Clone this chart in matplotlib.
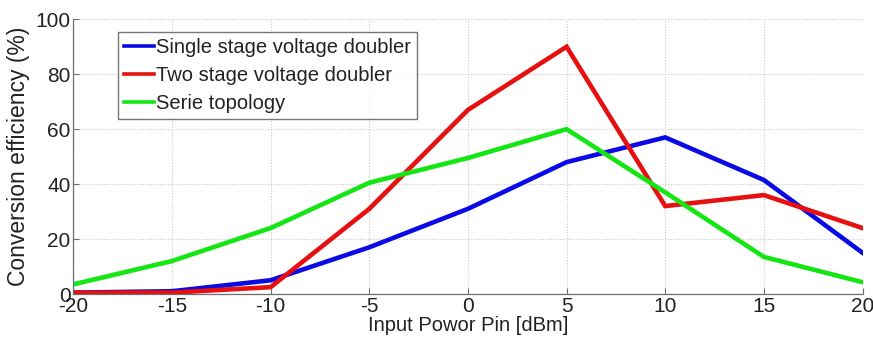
import matplotlib

matplotlib.use("Agg")
import matplotlib.pyplot as plt

# input power sweep (dBm) and measured conversion efficiency (%)
pin_dbm = [-20, -15, -10, -5, 0, 5, 10, 15, 20]
single_stage = [0.5, 1, 5, 17, 31, 48, 57, 41.5, 15]
two_stage = [0.5, 0.5, 2.5, 31, 67, 90, 32, 36, 24]
serie = [3.5, 12, 24, 40.5, 49.5, 60, 37, 13.5, 4.3]

labels = ["Single stage voltage doubler", "Two stage voltage doubler", "Serie topology"]
colors = ["#0a0ae6", "#e61010", "#14e614"]

plt.rcParams["font.family"] = ["Liberation Sans", "DejaVu Sans"]
plt.rcParams["axes.unicode_minus"] = False

fig = plt.figure(figsize=(8.73, 3.5), dpi=100)
ax = fig.add_axes([0.084, 0.16, 0.904, 0.785])

for series, label, color in zip([single_stage, two_stage, serie], labels, colors):
    ax.plot(pin_dbm, series, color=color, lw=3.3, label=label, solid_joinstyle="miter")

ax.set_xlim(-20, 20)
ax.set_ylim(0, 100)
ax.set_xticks(pin_dbm)
ax.set_yticks([0, 20, 40, 60, 80, 100])
ax.grid(True, color="#c8c8c8", linestyle=(0, (1, 1.5)), lw=0.8)
ax.set_axisbelow(True)

for side in ("top", "right"):
    ax.spines[side].set_visible(False)
for side in ("left", "bottom"):
    ax.spines[side].set_color("#6e6e6e")
    ax.spines[side].set_linewidth(0.9)

ax.tick_params(direction="in", length=4, color="#6e6e6e", labelsize=15,
               labelcolor="#222222", pad=2)
ax.set_xlabel("Input Powor Pin [dBm]", fontsize=14.5, color="#222222", labelpad=0)
ax.set_ylabel("Conversion efficiency (%)", fontsize=16.5, color="#222222", labelpad=4)

leg = ax.legend(loc="upper left", bbox_to_anchor=(0.056, 0.955), fontsize=14.5,
                frameon=True, fancybox=False, handlelength=1.5, handletextpad=0.1,
                borderpad=0.3, labelspacing=0.45, borderaxespad=0)
leg.get_frame().set_edgecolor("#555555")
leg.get_frame().set_linewidth(1.0)
for line in leg.get_lines():
    line.set_linewidth(2.6)
for t in leg.get_texts():
    t.set_color("#222222")

fig.savefig("out.png", dpi=100, facecolor="white")
